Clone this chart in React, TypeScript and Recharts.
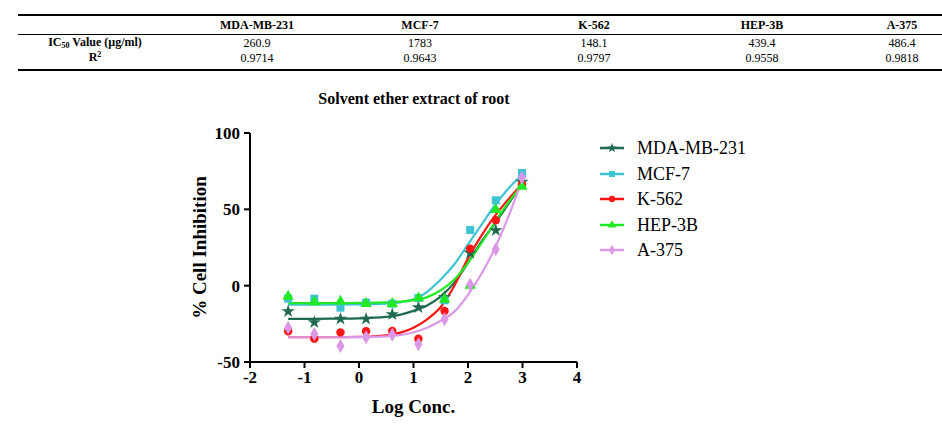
import React from 'react';
import { ComposedChart, Line, Scatter, XAxis, YAxis, Label, Symbols } from 'recharts';

// IC50 summary table
const cellLines = ['MDA-MB-231', 'MCF-7', 'K-562', 'HEP-3B', 'A-375'];
const ic50Values = ['260.9', '1783', '148.1', '439.4', '486.4'];
const rSquared = ['0.9714', '0.9643', '0.9797', '0.9558', '0.9818'];

// measured points (log concentration vs % inhibition)
const logConc = [-1.3, -0.82, -0.34, 0.13, 0.61, 1.09, 1.57, 2.04, 2.51, 2.99];
const mdaPoints = [-16.8, -24, -21.8, -21.8, -18.8, -14.2, -7.6, 21.4, 36.2, 68];
const mcfPoints = [-8.5, -8.5, -14.4, -11.1, -11.8, -8.1, -9.6, 36.5, 55.9, 73.8];
const k562Points = [-29.9, -34.7, -30.6, -29.9, -29.7, -34.7, -16.6, 24.2, 42.8, 66.2];
const hepPoints = [-7, -10.7, -10.3, -11.8, -11.8, -8.1, -9, 0.2, 49.8, 65];
const a375Points = [-27.5, -31.7, -39.5, -33.8, -32.1, -38.4, -22, 0.7, 23.8, 70.7];

// fitted dose-response curves
const fitX = [-1.3, -0.5, 0, 0.5, 1.0, 1.25, 1.5, 1.75, 2.0, 2.25, 2.5, 2.75, 3.0];
const mdaFit = [-21.8, -21.6, -21.4, -20.5, -16.5, -13, -7, 2, 15, 29, 41, 54, 67];
const mcfFit = [-12.4, -12.4, -12.3, -11.8, -9, -4, 4, 14, 27, 40, 53, 64, 73];
const k562Fit = [-33.8, -33.8, -33.6, -32.5, -27.5, -22, -14, 0, 18, 33, 46, 57, 67];
const hepFit = [-11.4, -11.4, -11.3, -11, -9.5, -7.5, -3, 4, 15, 28, 42, 55, 66];
const a375Fit = [-33.8, -33.8, -33.7, -33.2, -30.5, -27.5, -23, -17, -6, 8, 25, 46, 70];

const xTicks = [-2, -1, 0, 1, 2, 3, 4];
const yTicks = [-50, 0, 50, 100];

const SERIES = [
  { name: 'MDA-MB-231', color: '#1d6a4e', shape: 'star', points: mdaPoints, fit: mdaFit },
  { name: 'MCF-7', color: '#3ec3d3', shape: 'square', points: mcfPoints, fit: mcfFit },
  { name: 'K-562', color: '#ff1414', shape: 'circle', points: k562Points, fit: k562Fit },
  { name: 'HEP-3B', color: '#22ea22', shape: 'triangle', points: hepPoints, fit: hepFit },
  { name: 'A-375', color: '#dc98e8', shape: 'diamond', points: a375Points, fit: a375Fit },
] as const;

const SYMBOL_SIZE: Record<string, number> = {
  star: 55,
  square: 64,
  circle: 56,
  triangle: 56,
  diamond: 56,
};

const FONT = '"Liberation Serif", "Times New Roman", serif';
const COL_CENTERS = [257, 420, 594, 762, 902];

function TableCell({ x, y, bold, children }: { x: number; y: number; bold?: boolean; children: React.ReactNode }) {
  return (
    <div
      style={{
        position: 'absolute',
        left: x,
        top: y,
        transform: 'translate(-50%, -50%)',
        whiteSpace: 'nowrap',
        fontWeight: bold ? 700 : 400,
        fontSize: 12,
        lineHeight: '12px',
      }}
    >
      {children}
    </div>
  );
}

function SummaryTable() {
  return (
    <div style={{ position: 'absolute', left: 0, top: 0, width: 942, height: 80, fontFamily: FONT, color: '#000' }}>
      <div style={{ position: 'absolute', left: 18, top: 14, width: 924, height: 2, background: '#000' }} />
      <div style={{ position: 'absolute', left: 18, top: 34, width: 924, height: 1, background: '#000' }} />
      <div style={{ position: 'absolute', left: 18, top: 69, width: 924, height: 2, background: '#000' }} />
      {cellLines.map((c, i) => (
        <TableCell key={c} x={COL_CENTERS[i]} y={25} bold>{c}</TableCell>
      ))}
      <TableCell x={95} y={43} bold>
        IC<span style={{ fontSize: 8, position: 'relative', top: 2 }}>50</span> Value (µg/ml)
      </TableCell>
      {ic50Values.map((v, i) => (
        <TableCell key={i} x={COL_CENTERS[i]} y={43}>{v}</TableCell>
      ))}
      <TableCell x={95} y={58} bold>
        R<span style={{ fontSize: 8, position: 'relative', top: -4 }}>2</span>
      </TableCell>
      {rSquared.map((v, i) => (
        <TableCell key={i} x={COL_CENTERS[i]} y={58}>{v}</TableCell>
      ))}
    </div>
  );
}

function Legend() {
  return (
    <div style={{ position: 'absolute', left: 598, top: 136, fontFamily: FONT, fontSize: 18 }}>
      {SERIES.map((s, i) => (
        <div key={s.name} style={{ position: 'absolute', left: 0, top: i * 25.5, height: 24, width: 200 }}>
          <svg width={30} height={24} style={{ position: 'absolute', left: 0, top: 0 }}>
            <line x1={2} x2={26} y1={12} y2={12} stroke={s.color} strokeWidth={2.5} />
            <Symbols cx={14} cy={12} type={s.shape} size={SYMBOL_SIZE[s.shape] * 0.55} fill={s.color} />
          </svg>
          <span style={{ position: 'absolute', left: 39, top: 0, lineHeight: '24px', whiteSpace: 'nowrap' }}>{s.name}</span>
        </div>
      ))}
    </div>
  );
}

const XTick = ({ x, y, payload }: any) => (
  <text x={x} y={y + 13} textAnchor="middle" fontFamily={FONT} fontSize={17} fontWeight={700} fill="#000">
    {payload.value}
  </text>
);

const YTick = ({ x, y, payload }: any) => (
  <text x={x - 2} y={y + 6} textAnchor="end" fontFamily={FONT} fontSize={17} fontWeight={700} fill="#000">
    {payload.value}
  </text>
);

export default function App() {
  return (
    <div style={{ position: 'absolute', left: 0, top: 0, width: 942, height: 427, background: '#fff', overflow: 'hidden' }}>
      <SummaryTable />
      <div
        style={{
          position: 'absolute',
          left: 414,
          top: 99,
          transform: 'translate(-50%, -50%)',
          fontFamily: FONT,
          fontWeight: 700,
          fontSize: 16,
          whiteSpace: 'nowrap',
        }}
      >
        Solvent ether extract of root
      </div>
      <div style={{ position: 'absolute', left: 0, top: 80 }}>
        <ComposedChart width={942} height={347} margin={{ top: 53, right: 365, bottom: 35, left: 190 }}>
          <XAxis
            type="number"
            dataKey="x"
            domain={[-2, 4]}
            ticks={xTicks}
            allowDataOverflow
            height={30}
            axisLine={{ stroke: '#000', strokeWidth: 2 }}
            tickLine={{ stroke: '#000', strokeWidth: 2 }}
            tickSize={6}
            tick={<XTick />}
          >
            <Label
              content={({ viewBox }: any) => (
                <text
                  x={viewBox.x + viewBox.width / 2}
                  y={viewBox.y + 51}
                  textAnchor="middle"
                  style={{ fontFamily: FONT, fontSize: 19, fontWeight: 700 }}
                >
                  Log Conc.
                </text>
              )}
            />
          </XAxis>
          <YAxis
            type="number"
            dataKey="y"
            domain={[-50, 100]}
            ticks={yTicks}
            allowDataOverflow
            width={60}
            axisLine={{ stroke: '#000', strokeWidth: 2 }}
            tickLine={{ stroke: '#000', strokeWidth: 2 }}
            tickSize={6}
            tick={<YTick />}
          >
            <Label
              content={({ viewBox }: any) => {
                const cx = viewBox.x + 16;
                const cy = viewBox.y + viewBox.height / 2;
                return (
                  <text
                    x={cx}
                    y={cy}
                    textAnchor="middle"
                    transform={`rotate(-90 ${cx} ${cy})`}
                    style={{ fontFamily: FONT, fontSize: 19, fontWeight: 700 }}
                  >
                    % Cell Inhibition
                  </text>
                );
              }}
            />
          </YAxis>
          {SERIES.map((s) => (
            <Line
              key={`fit-${s.name}`}
              data={fitX.map((x, i) => ({ x, y: s.fit[i] }))}
              dataKey="y"
              type="monotone"
              stroke={s.color}
              strokeWidth={2.2}
              dot={false}
              activeDot={false}
              isAnimationActive={false}
              legendType="none"
            />
          ))}
          {SERIES.map((s) => (
            <Scatter
              key={`pts-${s.name}`}
              data={logConc.map((x, i) => ({ x, y: s.points[i] }))}
              dataKey="y"
              fill={s.color}
              isAnimationActive={false}
              shape={(p: any) => (
                <Symbols cx={p.cx} cy={p.cy} type={s.shape} size={SYMBOL_SIZE[s.shape]} fill={s.color} />
              )}
            />
          ))}
        </ComposedChart>
      </div>
      <Legend />
    </div>
  );
}
